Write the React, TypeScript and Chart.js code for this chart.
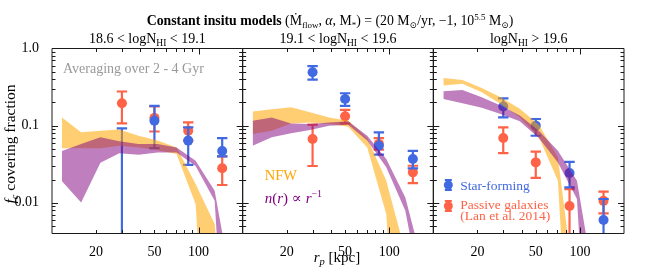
import React, { useEffect, useRef } from 'react';
import { Chart, registerables } from 'chart.js';

Chart.register(...registerables);

// ---------- data ----------
const MODEL_R = [11.7, 15.8, 21.4, 28.8, 38.9, 52.5, 70.8, 95.5, 128.8, 174];

// panel 1 : 18.6 < logNHI < 19.1
const NFW_HI_1 = [0.128, 0.082, 0.086, 0.089, 0.074, 0.064, 0.052, 0.0175, 0.0053, 0.00001];
const NFW_LO_1 = [0.051, 0.051, 0.051, 0.055, 0.052, 0.048, 0.043, 0.0096, 0.000001, 0.000001];
const RINV_HI_1 = [0.047, 0.058, 0.0705, 0.063, 0.058, 0.058, 0.052, 0.035, 0.0143, 0.0006];
const RINV_LO_1 = [0.019, 0.0101, 0.033, 0.044, 0.042, 0.045, 0.045, 0.030, 0.0106, 0.000001];

// panel 2 : 19.1 < logNHI < 19.6
const NFW_HI_2 = [0.153, 0.163, 0.173, 0.149, 0.128, 0.116, 0.069, 0.0193, 0.0023, 0.00001];
const NFW_LO_2 = [0.078, 0.086, 0.107, 0.110, 0.105, 0.097, 0.052, 0.0071, 0.000001, 0.000001];
const RINV_HI_2 = [0.116, 0.128, 0.107, 0.105, 0.110, 0.114, 0.074, 0.037, 0.0117, 0.0013];
const RINV_LO_2 = [0.055, 0.0705, 0.0795, 0.088, 0.100, 0.103, 0.064, 0.0288, 0.0079, 0.0004];

// panel 3 : logNHI > 19.6
const NFW_HI_3 = [0.416, 0.392, 0.308, 0.233, 0.165, 0.103, 0.0388, 0.00044, 0.00001, 0.00001];
const NFW_LO_3 = [0.331, 0.348, 0.271, 0.191, 0.128, 0.0705, 0.0193, 0.000001, 0.000001, 0.000001];
const RINV_HI_3 = [0.279, 0.290, 0.233, 0.182, 0.135, 0.086, 0.0473, 0.0193, 0.00067, 0.00001];
const RINV_LO_3 = [0.222, 0.195, 0.170, 0.142, 0.114, 0.069, 0.0334, 0.0112, 0.000001, 0.000001];

// observations (Lan et al. 2014)
const OBS_R = [30, 50, 85, 145];
const SF_Y_1 = [0.00001, 0.116, 0.064, 0.047];
const SF_LO_1 = [0.000001, 0.051, 0.031, 0.040];
const SF_HI_1 = [0.092, 0.18, 0.095, 0.069];
const PA_Y_1 = [0.195, 0.126, 0.086, 0.028];
const PA_LO_1 = [0.107, 0.084, 0.064, 0.017];
const PA_HI_1 = [0.277, 0.177, 0.11, 0.040];

const SF_Y_2 = [0.493, 0.222, 0.055, 0.037];
const SF_LO_2 = [0.396, 0.18, 0.042, 0.028];
const SF_HI_2 = [0.59, 0.263, 0.082, 0.047];
const PA_Y_2 = [0.067, 0.132, 0.058, 0.0248];
const PA_LO_2 = [0.030, 0.107, 0.049, 0.018];
const PA_HI_2 = [0.103, 0.16, 0.069, 0.0302];

const SF_Y_3 = [0.177, 0.1, 0.0243, 0.006];
const SF_LO_3 = [0.128, 0.074, 0.0158, 0.0001];
const SF_HI_3 = [0.226, 0.122, 0.034, 0.0112];
const PA_Y_3 = [0.069, 0.0334, 0.0091, 0.0106];
const PA_LO_3 = [0.044, 0.021, 0.0001, 0.0073];
const PA_HI_3 = [0.095, 0.046, 0.015, 0.014];

const X_TICKS = [20, 50, 100];
const Y_TICKS = [1, 0.1, 0.01];
const Y_TICK_LABELS = ['1.0', '0.1', '0.01'];
const PANEL_TITLES = [
  ['18.6 < logN', 'HI', ' < 19.1'],
  ['19.1 < logN', 'HI', ' < 19.6'],
  ['logN', 'HI', ' > 19.6'],
];

// ---------- styles ----------
const FONT = "'Liberation Serif', 'DejaVu Serif', serif";
const BLUE = '#4169e1';
const RED = '#ff6347';
const ORANGE_FILL = 'rgba(255,165,0,0.55)';
const PURPLE_FILL = 'rgba(128,0,128,0.5)';

type Seg = { t: string; size?: number; style?: string; dy?: number; color?: string };

function drawRich(ctx: CanvasRenderingContext2D, segs: Seg[], x: number, y: number, align: 'left' | 'center', base: number, color: string) {
  const fontOf = (s: Seg) => `${s.style ?? ''} ${s.size ?? base}px ${FONT}`;
  let w = 0;
  for (const s of segs) {
    ctx.font = fontOf(s);
    w += ctx.measureText(s.t).width;
  }
  let cx = align === 'center' ? x - w / 2 : x;
  ctx.textAlign = 'left';
  ctx.textBaseline = 'alphabetic';
  for (const s of segs) {
    ctx.font = fontOf(s);
    ctx.fillStyle = s.color ?? color;
    ctx.fillText(s.t, cx, y + (s.dy ?? 0));
    cx += ctx.measureText(s.t).width;
  }
}

const errorBarPlugin = {
  id: 'errbars',
  beforeDatasetDraw(chart: any, args: any) {
    const ds = chart.data.datasets[args.index];
    if (!ds.errLo) return;
    const meta = args.meta;
    const xs = chart.scales[meta.xAxisID];
    const ys = chart.scales[meta.yAxisID];
    const ctx = chart.ctx as CanvasRenderingContext2D;
    const a = chart.chartArea;
    ctx.save();
    ctx.beginPath();
    ctx.rect(a.left, a.top, a.right - a.left, a.bottom - a.top);
    ctx.clip();
    ctx.strokeStyle = ds.pointBackgroundColor;
    ctx.lineWidth = 2.2;
    ds.data.forEach((pt: any, i: number) => {
      const px = xs.getPixelForValue(pt.x);
      const lo = ys.getPixelForValue(ds.errLo[i]);
      const hi = ys.getPixelForValue(ds.errHi[i]);
      ctx.beginPath();
      ctx.moveTo(px, lo);
      ctx.lineTo(px, hi);
      ctx.moveTo(px - 5.2, lo);
      ctx.lineTo(px + 5.2, lo);
      ctx.moveTo(px - 5.2, hi);
      ctx.lineTo(px + 5.2, hi);
      ctx.stroke();
    });
    ctx.restore();
  },
};

const framePlugin = {
  id: 'frame',
  afterDatasetsDraw(chart: any) {
    const ctx = chart.ctx as CanvasRenderingContext2D;
    const a = chart.chartArea;
    const ys = chart.scales.y;
    const xMinor = [20, 30, 40, 50, 60, 70, 80, 90];
    const xMajor = [100];
    const yMajor = [0.1, 0.01];
    const yMinor = [0.005, 0.006, 0.007, 0.008, 0.009, 0.02, 0.03, 0.04, 0.05, 0.06, 0.07, 0.08, 0.09, 0.2, 0.3, 0.4, 0.5, 0.6, 0.7, 0.8, 0.9];
    ctx.save();
    ctx.strokeStyle = '#1a1a1a';
    ctx.lineWidth = 1;
    ['x1', 'x2', 'x3'].forEach((id) => {
      const xs = chart.scales[id];
      const L = xs.left, R = xs.right, T = a.top, B = a.bottom;
      ctx.beginPath();
      ctx.rect(L, T, R - L, B - T);
      ctx.stroke();
      ctx.beginPath();
      const xt = (v: number, len: number) => {
        const p = Math.round(xs.getPixelForValue(v)) + 0.5;
        ctx.moveTo(p, B); ctx.lineTo(p, B - len);
        ctx.moveTo(p, T); ctx.lineTo(p, T + len);
      };
      xMinor.forEach((v) => xt(v, 3.5));
      xMajor.forEach((v) => xt(v, 6));
      const yt = (v: number, len: number) => {
        const p = Math.round(ys.getPixelForValue(v)) + 0.5;
        ctx.moveTo(L, p); ctx.lineTo(L + len, p);
        ctx.moveTo(R, p); ctx.lineTo(R - len, p);
      };
      yMinor.forEach((v) => yt(v, 3.5));
      yMajor.forEach((v) => yt(v, 6));
      ctx.stroke();
    });
    ctx.restore();
  },
  afterDraw(chart: any) {
    const ctx = chart.ctx as CanvasRenderingContext2D;
    const a = chart.chartArea;
    const x1 = chart.scales.x1, x2 = chart.scales.x2, x3 = chart.scales.x3;
    ctx.save();
    // main title
    drawRich(ctx, [
      { t: 'Constant insitu models ', style: 'bold' },
      { t: '(Ṁ' },
      { t: 'flow', size: 9, dy: 3 },
      { t: ', ' },
      { t: 'α', style: 'italic' },
      { t: ', M' },
      { t: '*', size: 9, dy: 3 },
      { t: ') = (20 M' },
      { t: '⊙', size: 9, dy: 3 },
      { t: '/yr, −1, 10' },
      { t: '5.5', size: 9, dy: -5 },
      { t: ' M' },
      { t: '⊙', size: 9, dy: 3 },
      { t: ')' },
    ], 330, 25, 'center', 13.8, '#000');
    // panel titles
    [x1, x2, x3].forEach((xs: any, i: number) => {
      const [a1, sub, a2] = PANEL_TITLES[i];
      drawRich(ctx, [{ t: a1 }, { t: sub, size: 9.5, dy: 3 }, { t: a2 }], (xs.left + xs.right) / 2, a.top - 5.5, 'center', 14, '#000');
    });
    // annotations
    drawRich(ctx, [{ t: 'Averaging over 2 - 4 Gyr' }], x1.left + 11, a.top + 24, 'left', 14, '#999999');
    drawRich(ctx, [{ t: 'NFW' }], x2.left + 22, 180, 'left', 14.5, '#ffa500');
    drawRich(ctx, [
      { t: 'n', style: 'italic' }, { t: '(' }, { t: 'r', style: 'italic' }, { t: ') ∝ ' },
      { t: 'r', style: 'italic' }, { t: '−1', size: 10, dy: -6 },
    ], x2.left + 22, 203, 'left', 15, '#800080');
    // legend
    const lx = x3.left + 15;
    const legendItem = (cy: number, color: string) => {
      ctx.strokeStyle = color;
      ctx.fillStyle = color;
      ctx.lineWidth = 2.2;
      ctx.beginPath();
      ctx.moveTo(lx, cy - 5); ctx.lineTo(lx, cy + 5);
      ctx.moveTo(lx - 3.5, cy - 5); ctx.lineTo(lx + 3.5, cy - 5);
      ctx.moveTo(lx - 3.5, cy + 5); ctx.lineTo(lx + 3.5, cy + 5);
      ctx.stroke();
      ctx.beginPath();
      ctx.arc(lx, cy, 4.5, 0, Math.PI * 2);
      ctx.fill();
    };
    legendItem(185, BLUE);
    legendItem(206, RED);
    drawRich(ctx, [{ t: 'Star-forming' }], lx + 12, 189.5, 'left', 13.5, BLUE);
    drawRich(ctx, [{ t: 'Passive galaxies' }], lx + 12, 209, 'left', 13.5, RED);
    drawRich(ctx, [{ t: '(Lan et al. 2014)' }], lx + 12, 220, 'left', 13.5, RED);
    // x label
    drawRich(ctx, [{ t: 'r', style: 'italic' }, { t: 'p', style: 'italic', size: 10.5, dy: 3 }, { t: ' [kpc]' }], 337, 262, 'center', 15, '#000');
    // y label
    ctx.translate(15, 144);
    ctx.rotate(-Math.PI / 2);
    drawRich(ctx, [{ t: 'f', style: 'italic' }, { t: 'c', style: 'italic', size: 10.5, dy: 3 }, { t: ' covering fraction' }], 0, 0, 'center', 15.5, '#000');
    ctx.restore();
  },
};

function band(vals: number[], axis: string, color: string, fill: any) {
  return {
    type: 'line',
    data: MODEL_R.map((r, i) => ({ x: r, y: vals[i] })),
    xAxisID: axis,
    yAxisID: 'y',
    borderColor: 'transparent',
    borderWidth: 0,
    pointRadius: 0,
    backgroundColor: color,
    fill,
    tension: 0,
  };
}

function obs(y: number[], lo: number[], hi: number[], axis: string, color: string) {
  return {
    type: 'line',
    data: OBS_R.map((r, i) => ({ x: r, y: y[i] })),
    xAxisID: axis,
    yAxisID: 'y',
    showLine: false,
    borderColor: 'transparent',
    borderWidth: 0,
    pointRadius: 5,
    pointBorderWidth: 0,
    pointBackgroundColor: color,
    pointBorderColor: color,
    backgroundColor: color,
    fill: false,
    errLo: lo,
    errHi: hi,
  };
}

function xAxis() {
  return {
    type: 'logarithmic',
    position: 'bottom',
    stack: 'bottom',
    stackWeight: 1,
    min: 10,
    max: 200,
    grid: { display: false },
    border: { display: false },
    afterBuildTicks: (s: any) => { s.ticks = X_TICKS.map((v) => ({ value: v })); },
    afterFit: (s: any) => { s.height = 41.5; },
    ticks: {
      autoSkip: false,
      maxRotation: 0,
      padding: 2,
      color: '#000',
      font: { family: FONT, size: 14 },
      callback: (v: any) => String(v),
    },
  };
}

export default function App() {
  const ref = useRef<HTMLCanvasElement | null>(null);
  useEffect(() => {
    if (!ref.current) return;
    const panels = [
      { axis: 'x1', nh: NFW_HI_1, nl: NFW_LO_1, rh: RINV_HI_1, rl: RINV_LO_1, sf: [SF_Y_1, SF_LO_1, SF_HI_1], pa: [PA_Y_1, PA_LO_1, PA_HI_1] },
      { axis: 'x2', nh: NFW_HI_2, nl: NFW_LO_2, rh: RINV_HI_2, rl: RINV_LO_2, sf: [SF_Y_2, SF_LO_2, SF_HI_2], pa: [PA_Y_2, PA_LO_2, PA_HI_2] },
      { axis: 'x3', nh: NFW_HI_3, nl: NFW_LO_3, rh: RINV_HI_3, rl: RINV_LO_3, sf: [SF_Y_3, SF_LO_3, SF_HI_3], pa: [PA_Y_3, PA_LO_3, PA_HI_3] },
    ];
    const datasets: any[] = [];
    panels.forEach((p) => {
      datasets.push(band(p.rh, p.axis, PURPLE_FILL, '+1'));
      datasets.push(band(p.rl, p.axis, PURPLE_FILL, false));
      datasets.push(band(p.nh, p.axis, ORANGE_FILL, '+1'));
      datasets.push(band(p.nl, p.axis, ORANGE_FILL, false));
    });
    panels.forEach((p) => {
      datasets.push(obs(p.sf[0], p.sf[1], p.sf[2], p.axis, BLUE));
      datasets.push(obs(p.pa[0], p.pa[1], p.pa[2], p.axis, RED));
    });
    const chart = new Chart(ref.current, {
      type: 'line',
      data: { datasets },
      plugins: [errorBarPlugin, framePlugin],
      options: {
        responsive: false,
        animation: false,
        events: [],
        layout: { padding: { left: 0, right: 26, top: 48.5, bottom: 0 } },
        plugins: { legend: { display: false }, tooltip: { enabled: false }, title: { display: false } },
        scales: {
          y: {
            type: 'logarithmic',
            position: 'left',
            min: 0.004,
            max: 1,
            grid: { display: false },
            border: { display: false },
            afterBuildTicks: (s: any) => { s.ticks = Y_TICKS.map((v) => ({ value: v })); },
            afterFit: (s: any) => { s.width = 52; },
            ticks: {
              padding: 5,
              color: '#000',
              font: { family: FONT, size: 14 },
              callback: (v: any) => Y_TICK_LABELS[Y_TICKS.indexOf(Number(v))] ?? '',
            },
          },
          x1: xAxis(),
          x2: xAxis(),
          x3: xAxis(),
        } as any,
      } as any,
    } as any);
    return () => chart.destroy();
  }, []);
  return (
    <div style={{ position: 'fixed', left: 0, top: 0, width: 650, height: 275, background: '#fff' }}>
      <canvas ref={ref} width={650} height={275} style={{ width: 650, height: 275, display: 'block' }} />
    </div>
  );
}
